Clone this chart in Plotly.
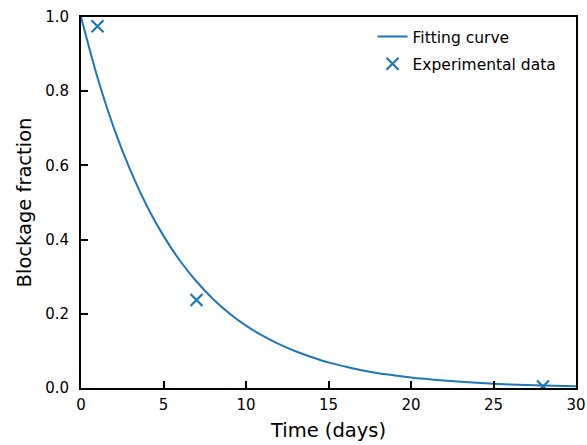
import plotly.graph_objects as go

# Fitting curve
fit_x = [0, 1, 2, 3, 4, 5, 6, 7, 8, 9, 10, 11, 12, 13, 14, 15, 16, 17, 18, 19, 20, 22, 24, 26, 28, 30]
fit_y = [1.0, 0.837, 0.70, 0.586, 0.49, 0.41, 0.343, 0.287, 0.24, 0.201, 0.168, 0.141, 0.118,
         0.099, 0.083, 0.069, 0.058, 0.048, 0.040, 0.034, 0.028, 0.020, 0.014, 0.0097, 0.0068, 0.0048]

# Experimental data
exp_x = [1, 7, 28]
exp_y = [0.975, 0.237, 0.004]

x_ticks = [0, 5, 10, 15, 20, 25, 30]
y_ticks = [0.0, 0.2, 0.4, 0.6, 0.8, 1.0]

blue = "#1f77b4"
font = "DejaVu Sans"

fig = go.Figure()
fig.add_trace(go.Scatter(x=fit_x, y=fit_y, mode="lines", name="Fitting curve",
                         legendgroup="a",
                         line=dict(color=blue, width=2, shape="spline", smoothing=0.8)))
fig.add_trace(go.Scatter(x=exp_x, y=exp_y, mode="markers", name="Experimental data",
                         legendgroup="b", cliponaxis=True,
                         marker=dict(symbol="x-thin", size=12, color=blue,
                                     line=dict(color=blue, width=2.2))))

axis_common = dict(showline=True, linecolor="black", linewidth=2, mirror=True,
                   ticks="inside", ticklen=7, tickwidth=2, tickcolor="black",
                   showgrid=False, zeroline=False, automargin=False,
                   tickfont=dict(family=font, size=15, color="black"))

fig.update_layout(
    width=587, height=445,
    margin=dict(l=81, r=11, t=17, b=57),
    plot_bgcolor="white", paper_bgcolor="white",
    font=dict(family=font, color="black"),
    xaxis=dict(range=[0, 30], tickvals=x_ticks, ticktext=[str(v) for v in x_ticks],
               ticklabelstandoff=2,
               title=dict(text="Time (days)", font=dict(family=font, size=19.5), standoff=10),
               **axis_common),
    yaxis=dict(range=[0, 1.0], tickvals=y_ticks, ticktext=[f"{v:.1f}" for v in y_ticks],
               ticklabelstandoff=7,
               title=dict(text="Blockage fraction", font=dict(family=font, size=19.5), standoff=8),
               **axis_common),
    legend=dict(x=0.589, y=0.992, xanchor="left", yanchor="top",
                font=dict(family=font, size=15.5), bgcolor="rgba(255,255,255,0)",
                itemwidth=30, traceorder="grouped", tracegroupgap=4),
    showlegend=True,
)

fig.write_html("out.html", config={"displayModeBar": False},
               post_script="document.body.style.margin='0';")
